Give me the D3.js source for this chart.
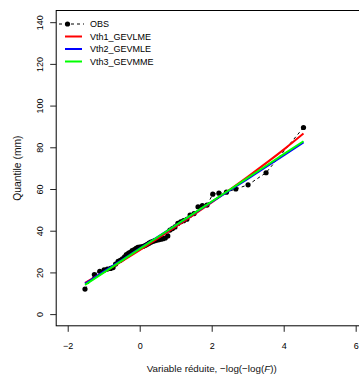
<!DOCTYPE html>
<html><head><meta charset="utf-8">
<script src="https://cdn.jsdelivr.net/npm/d3@7"></script>
<style>html,body{margin:0;padding:0;background:#fff;}svg{display:block;font-family:"Liberation Sans",Arial,sans-serif;}</style>
</head><body>
<svg id="c" width="359" height="374"></svg>
<script>
// Observed sample: reduced variate (Gringorten positions) and sorted quantiles (mm)
const obsX = [-1.52,-1.26,-1.11,-0.99,-0.90,-0.81,-0.74,-0.67,-0.60,-0.54,-0.48,-0.42,-0.37,-0.31,-0.26,-0.21,-0.15,-0.10,-0.05,0.00,0.05,0.10,0.16,0.21,0.26,0.31,0.37,0.42,0.48,0.53,0.59,0.65,0.71,0.78,0.84,0.91,0.98,1.06,1.14,1.22,1.31,1.40,1.51,1.62,1.74,1.87,2.03,2.20,2.41,2.67,3.01,3.51,4.55];
const obsY = [12.0,19.0,20.5,21.2,21.6,21.9,22.3,24.0,25.3,25.8,26.5,27.5,28.6,29.3,29.6,30.5,31.0,31.5,32.0,32.2,32.3,32.5,33.0,33.5,34.0,34.5,34.9,35.2,35.5,35.7,35.9,36.2,36.5,37.5,40.3,41.0,41.8,43.5,44.3,44.8,45.5,47.5,48.2,51.5,52.0,52.3,57.5,58.0,58.5,60.0,62.0,67.8,89.5];
// Fitted GEV quantile curves sampled at these reduced variates
const fitX = [-1.52,-1,0,1,2,3,4,4.55];
const vth1 = [15.0,20.1,30.7,41.9,53.6,65.9,78.9,86.6];
const vth2 = [14.6,20.4,31.5,42.6,53.8,64.9,76.1,82.4];
const vth3 = [14.0,19.9,31.3,42.6,54.0,65.3,76.7,82.9];
const seriesNames = ["OBS","Vth1_GEVLME","Vth2_GEVMLE","Vth3_GEVMME"];
const seriesColors = ["#000000","#ff0000","#0000ff","#00ff00"];
const xTicks = [-2,0,2,4,6];
const yTicks = [0,20,40,60,80,100,120,140];
const xLabelMain = "Variable réduite, −log(−log(";
const xLabelItalic = "F";
const xLabelEnd = "))";
const yLabel = "Quantile (mm)";

const svg = d3.select("#c");
const L = 56.2, R = 367.2, T = 10.5, B = 325.8;
const x = d3.scaleLinear().domain([-2.32, 6.32]).range([L, R]);
const y = d3.scaleLinear().domain([-5.6, 145.6]).range([B, T]);

// box
svg.append("rect").attr("x", L).attr("y", T).attr("width", R - L).attr("height", B - T)
  .attr("fill", "none").attr("stroke", "#000").attr("stroke-width", 1);

// axes
const xa = svg.append("g").attr("transform", `translate(0,${B})`)
  .call(d3.axisBottom(x).tickValues(xTicks).tickSize(6).tickPadding(3).tickFormat(d3.format("d")));
xa.select(".domain").remove();
xa.selectAll("line").attr("stroke", "#222");
xa.selectAll("text").attr("font-size", 9).attr("fill", "#000")
  .attr("font-family", "Liberation Sans, Arial, sans-serif").attr("dy", null).attr("y", 23);
const ya = svg.append("g").attr("transform", `translate(${L},0)`)
  .call(d3.axisLeft(y).tickValues(yTicks).tickSize(6).tickFormat(d3.format("d")));
ya.select(".domain").remove();
ya.selectAll("line").attr("stroke", "#222");
ya.selectAll("text").attr("font-size", 9).attr("fill", "#000")
  .attr("font-family", "Liberation Sans, Arial, sans-serif")
  .attr("x", null).attr("dy", null).attr("text-anchor", "middle")
  .attr("transform", "translate(-13,0) rotate(-90)");

// axis labels
const xl = svg.append("text").attr("x", 211.7).attr("y", 371.5).attr("text-anchor", "middle")
  .attr("font-size", 9.8).attr("fill", "#111");
xl.append("tspan").text(xLabelMain);
xl.append("tspan").attr("font-style", "italic").text(xLabelItalic);
xl.append("tspan").text(xLabelEnd);
svg.append("text").attr("transform", `translate(21,${(T + B) / 2}) rotate(-90)`)
  .attr("text-anchor", "middle").attr("font-size", 10.3).attr("fill", "#111").text(yLabel);

// observed
const obs = obsX.map((v, i) => [v, obsY[i]]);
const line = d3.line().x(d => x(d[0])).y(d => y(d[1]));
svg.append("path").datum(obs).attr("d", line).attr("fill", "none")
  .attr("stroke", "#000").attr("stroke-width", 1).attr("stroke-dasharray", "3,3");
svg.append("g").selectAll("circle").data(obs).join("circle")
  .attr("cx", d => x(d[0])).attr("cy", d => y(d[1])).attr("r", 2.6).attr("fill", "#000");

// fitted curves
const curve = d3.line().x(d => x(d[0])).y(d => y(d[1])).curve(d3.curveMonotoneX);
[vth1, vth2, vth3].forEach((vals, k) => {
  svg.append("path").datum(fitX.map((v, i) => [v, vals[i]])).attr("d", curve)
    .attr("fill", "none").attr("stroke", seriesColors[k + 1]).attr("stroke-width", 2);
});

// legend
const ly = [24, 36.5, 49, 61.5];
const lg = svg.append("g");
lg.append("line").attr("x1", 59).attr("x2", 84).attr("y1", ly[0]).attr("y2", ly[0])
  .attr("stroke", "#000").attr("stroke-width", 1).attr("stroke-dasharray", "3,3");
lg.append("circle").attr("cx", 67.5).attr("cy", ly[0]).attr("r", 2.6).attr("fill", "#000");
for (let k = 1; k < 4; k++) {
  lg.append("line").attr("x1", 65).attr("x2", 82).attr("y1", ly[k]).attr("y2", ly[k])
    .attr("stroke", seriesColors[k]).attr("stroke-width", 2);
}
seriesNames.forEach((n, k) => {
  lg.append("text").attr("x", 90).attr("y", ly[k] + 3.3).attr("font-size", 9)
    .attr("fill", "#000").text(n);
});
</script>
</body></html>
